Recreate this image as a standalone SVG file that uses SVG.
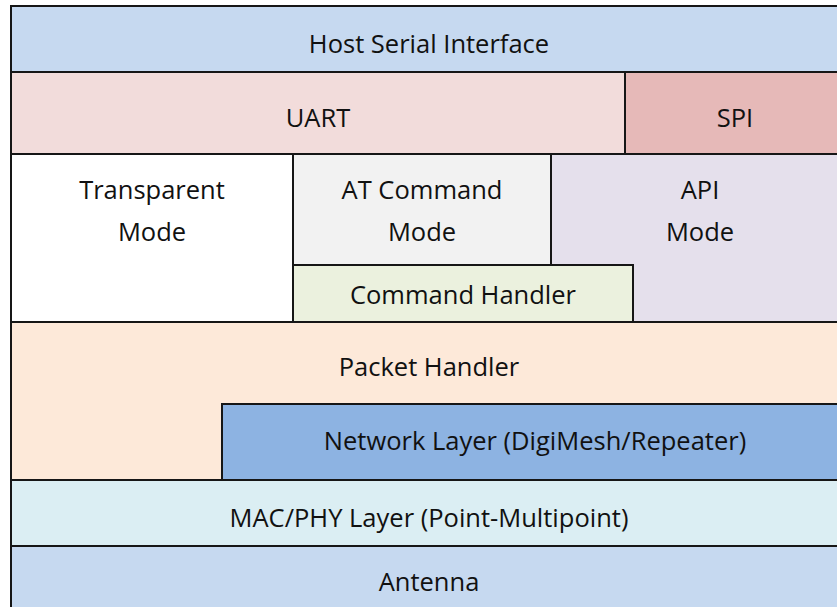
<svg xmlns="http://www.w3.org/2000/svg" width="837" height="607" viewBox="0 0 837 607">
<style>
rect{stroke:#161616;stroke-width:2}
text{font-family:"Open Sans","Liberation Sans",Arial,sans-serif;font-size:25.5px;fill:#111;text-anchor:middle}
</style>
<rect x="0" y="0" width="837" height="607" fill="#ffffff" style="stroke:none"/>
<g id="host"><rect x="11" y="6" width="840" height="66" fill="#C6D9F0"/><text x="429" y="53">Host Serial Interface</text></g>
<g id="uart"><rect x="11" y="72" width="614" height="82" fill="#F2DCDB"/><text x="318" y="127">UART</text></g>
<g id="spi"><rect x="625" y="72" width="226" height="82" fill="#E6B9B8"/><text x="735" y="127">SPI</text></g>
<g id="transparent"><rect x="11" y="154" width="282" height="168" fill="#FFFFFF"/><text x="152" y="199">Transparent</text><text x="152" y="241">Mode</text></g>
<g id="api"><rect x="551" y="154" width="300" height="168" fill="#E5E0EC"/><text x="700" y="199">API</text><text x="700" y="241">Mode</text></g>
<g id="atcmd"><rect x="293" y="154" width="258" height="111" fill="#F2F2F2"/><text x="422" y="199">AT Command</text><text x="422" y="241">Mode</text></g>
<g id="cmdhandler"><rect x="293" y="265" width="340" height="57" fill="#EBF1DE"/><text x="463" y="304">Command Handler</text></g>
<g id="packet"><rect x="11" y="322" width="840" height="158" fill="#FDE9D9"/><text x="429" y="376">Packet Handler</text></g>
<g id="network"><rect x="222" y="404" width="629" height="76" fill="#8DB3E2"/><text x="535" y="450">Network Layer (DigiMesh/Repeater)</text></g>
<g id="mac"><rect x="11" y="480" width="840" height="66" fill="#DBEEF3"/><text x="429" y="527">MAC/PHY Layer (Point-Multipoint)</text></g>
<g id="antenna"><rect x="11" y="546" width="840" height="70" fill="#C6D9F0"/><text x="429" y="591">Antenna</text></g>
<g id="connectors"></g>
</svg>
